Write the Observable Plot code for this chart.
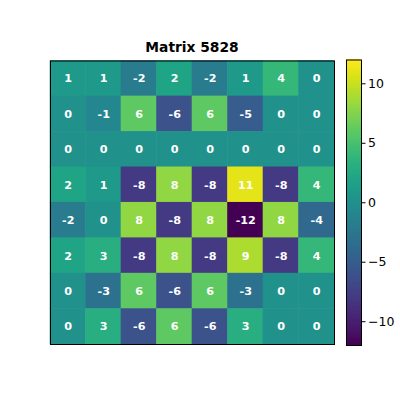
<!DOCTYPE html>
<html>
<head>
<meta charset="utf-8">
<script src="https://cdn.jsdelivr.net/npm/d3@7"></script>
<script src="https://cdn.jsdelivr.net/npm/@observablehq/plot@0.6"></script>
<style>
  html, body { margin: 0; padding: 0; background: #fff; }
  #wrap { position: relative; width: 400px; height: 400px; font-family: "DejaVu Sans", sans-serif; }
  #wrap > svg, #wrap > div { position: absolute; }
  #title { left: 50px; width: 284px; top: 39px; text-align: center; font-weight: bold; font-size: 13.8px; line-height: 16px; color: #000; font-family: "DejaVu Sans", sans-serif; }
</style>
</head>
<body>
<div id="wrap">
  <div id="title">Matrix 5828</div>
</div>
<script>
const title = "Matrix 5828";
const rowIdx = [0, 1, 2, 3, 4, 5, 6, 7];
const colIdx = [0, 1, 2, 3, 4, 5, 6, 7];
const matrix = [
  [ 1,  1, -2,  2, -2,   1,  4,  0],
  [ 0, -1,  6, -6,  6,  -5,  0,  0],
  [ 0,  0,  0,  0,  0,   0,  0,  0],
  [ 2,  1, -8,  8, -8,  11, -8,  4],
  [-2,  0,  8, -8,  8, -12,  8, -4],
  [ 2,  3, -8,  8, -8,   9, -8,  4],
  [ 0, -3,  6, -6,  6,  -3,  0,  0],
  [ 0,  3, -6,  6, -6,   3,  0,  0]
];
const colorDomain = [-12, 12];
const cbTicks = [-10, -5, 0, 5, 10];

const cells = [];
rowIdx.forEach(r => colIdx.forEach(c => cells.push({row: r, col: c, value: matrix[r][c]})));

const wrap = document.getElementById("wrap");

const main = Plot.plot({
  width: 400, height: 400,
  marginLeft: 50, marginRight: 66, marginTop: 60.5, marginBottom: 56,
  x: {type: "band", domain: colIdx, padding: 0, round: false, axis: null},
  y: {type: "band", domain: rowIdx, padding: 0, round: false, axis: null},
  color: {type: "linear", scheme: "viridis", domain: colorDomain},
  style: {fontFamily: "DejaVu Sans, sans-serif", background: "transparent"},
  marks: [
    Plot.cell(cells, {x: "col", y: "row", fill: "value", inset: -0.3}),
    Plot.text(cells, {x: "col", y: "row", text: d => String(d.value), fill: "white",
      fontWeight: "bold", fontSize: 11.2}),
    Plot.frame({stroke: "black", strokeWidth: 1})
  ]
});
main.style.left = "0px"; main.style.top = "0px";
wrap.appendChild(main);

const step = 0.1;
const bands = d3.range(colorDomain[0], colorDomain[1], step).map(v => ({lo: v, hi: Math.min(v + step, colorDomain[1])}));
const cb = Plot.plot({
  width: 54, height: 400,
  marginLeft: 0, marginRight: 39, marginTop: 59.5, marginBottom: 55,
  x: {axis: null},
  y: {domain: colorDomain, axis: "right", ticks: cbTicks, tickSize: 3.5, tickPadding: 3,
      tickFormat: d => d < 0 ? "\u2212" + Math.abs(d) : String(d), label: null},
  color: {type: "linear", scheme: "viridis", domain: colorDomain},
  style: {fontFamily: "DejaVu Sans, sans-serif", fontSize: "12.5px", color: "#000", background: "transparent", overflow: "visible"},
  marks: [
    Plot.rect(bands, {y1: "lo", y2: "hi", fill: d => (d.lo + d.hi) / 2, insetTop: -0.4, shapeRendering: "crispEdges"}),
    Plot.frame({stroke: "black", strokeWidth: 1})
  ]
});
cb.style.left = "346px"; cb.style.top = "0px";
wrap.appendChild(cb);
</script>
</body>
</html>
